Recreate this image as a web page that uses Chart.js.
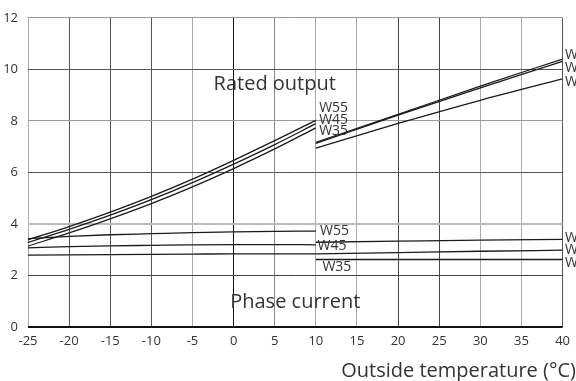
<!DOCTYPE html>
<html lang="en">
<head>
  <meta charset="UTF-8">
  <title>Rated output and phase current</title>
  <script src="https://cdn.jsdelivr.net/npm/chart.js"></script>
  <style>
    body { margin: 0; background: #ffffff; }
    #wrap { width: 576px; height: 381px; }
  </style>
</head>
<body>
  <div id="wrap"><canvas id="chart" width="576" height="381"></canvas></div>

  <script>
  // temperatures (°C)
  const tempsLow = [-25, -20, -15, -10, -5, 0, 5, 10];
  const tempsHigh = [10, 20, 30, 40];

  // rated output (kW)
  const outW55Low = [3.38, 3.90, 4.46, 5.07, 5.74, 6.47, 7.23, 8.02];
  const outW45Low = [3.28, 3.79, 4.34, 4.94, 5.60, 6.32, 7.08, 7.89];
  const outW35Low = [3.14, 3.65, 4.20, 4.79, 5.44, 6.15, 6.91, 7.73];
  const outW55High = [7.17, 8.25, 9.35, 10.40];
  const outW45High = [7.13, 8.22, 9.28, 10.31];
  const outW35High = [6.94, 7.90, 8.80, 9.63];

  // phase current (A)
  const curW55Low = [3.43, 3.52, 3.58, 3.62, 3.66, 3.69, 3.71, 3.72];
  const curW45Low = [3.07, 3.12, 3.15, 3.17, 3.19, 3.20, 3.20, 3.19];
  const curW35Low = [2.79, 2.80, 2.81, 2.82, 2.83, 2.84, 2.84, 2.84];
  const curW55High = [3.29, 3.33, 3.37, 3.40];
  const curW45High = [2.84, 2.89, 2.94, 2.98];
  const curW35High = [2.62, 2.62, 2.62, 2.62];

  const xTicks = [-25, -20, -15, -10, -5, 0, 5, 10, 15, 20, 25, 30, 35, 40];
  const yTicks = [0, 2, 4, 6, 8, 10, 12];

  function pts(xs, ys) { return xs.map((x, i) => ({ x: x, y: ys[i] })); }
  function line(xs, ys) {
    return { data: pts(xs, ys), borderColor: '#1a1a1a', borderWidth: 1.3, pointRadius: 0, fill: false,
             cubicInterpolationMode: 'monotone' };
  }

  const datasets = [
    line(tempsLow, outW55Low), line(tempsLow, outW45Low), line(tempsLow, outW35Low),
    line(tempsHigh, outW55High), line(tempsHigh, outW45High), line(tempsHigh, outW35High),
    line(tempsLow, curW55Low), line(tempsLow, curW45Low), line(tempsLow, curW35Low),
    line(tempsHigh, curW55High), line(tempsHigh, curW45High), line(tempsHigh, curW35High)
  ];

  // grid shades copied from the scanned figure
  const xGridShade = { '-25': '#aaa', '-20': '#555', '-15': '#555', '-10': '#555', '-5': '#aaa', '0': '#111',
    '5': '#888', '10': '#aaa', '15': '#aaa', '20': '#444', '25': '#444', '30': '#aaa', '35': '#aaa', '40': '#555' };
  const yGridShade = { '0': '#111', '2': '#444', '4': '#bbb', '6': '#555', '8': '#999', '10': '#555', '12': '#999' };

  // text labels placed in data space
  const notes = [
    { text: 'Rated output', x: 5.0, y: 9.4, size: 20, align: 'center' },
    { text: 'Phase current', x: 7.5, y: 0.95, size: 20, align: 'center' },
    { text: 'W55', x: 10.4, y: 8.5, size: 14, align: 'left' },
    { text: 'W45', x: 10.4, y: 8.05, size: 14, align: 'left' },
    { text: 'W35', x: 10.4, y: 7.6, size: 14, align: 'left' },
    { text: 'W55', x: 10.5, y: 3.72, size: 14, align: 'left' },
    { text: 'W45', x: 10.2, y: 3.14, size: 14, align: 'left' },
    { text: 'W35', x: 10.8, y: 2.33, size: 14, align: 'left' },
    { text: 'W55', x: 40.3, y: 10.55, size: 14, align: 'left' },
    { text: 'W45', x: 40.3, y: 10.05, size: 14, align: 'left' },
    { text: 'W35', x: 40.3, y: 9.5, size: 14, align: 'left' },
    { text: 'W55', x: 40.3, y: 3.45, size: 14, align: 'left' },
    { text: 'W45', x: 40.3, y: 3.0, size: 14, align: 'left' },
    { text: 'W35', x: 40.3, y: 2.48, size: 14, align: 'left' }
  ];

  const notePlugin = {
    id: 'notes',
    afterDatasetsDraw(chart) {
      const { ctx, scales } = chart;
      ctx.save();
      ctx.fillStyle = '#333';
      ctx.textBaseline = 'middle';
      notes.forEach(n => {
        ctx.font = n.size + 'px "Open Sans", sans-serif';
        ctx.textAlign = n.align;
        ctx.fillText(n.text, scales.x.getPixelForValue(n.x), scales.y.getPixelForValue(n.y));
      });
      // axis title sits flush with the right edge of the figure
      ctx.font = '20px "Open Sans", sans-serif';
      ctx.textAlign = 'right';
      ctx.fillText('Outside temperature (°C)', chart.width, scales.x.bottom - 10);
      ctx.restore();
    }
  };

  new Chart(document.getElementById('chart'), {
    type: 'line',
    data: { datasets: datasets },
    plugins: [notePlugin],
    options: {
      responsive: false,
      animation: false,
      plugins: { legend: { display: false }, tooltip: { enabled: false } },
      layout: { padding: { top: 17, right: 12, left: 0, bottom: 0 } },
      scales: {
        x: {
          type: 'linear', min: -25, max: 40,
          afterBuildTicks: ax => { ax.ticks = xTicks.map(v => ({ value: v })); },
          grid: { color: c => xGridShade[String(c.tick.value)] || '#888', lineWidth: 1, drawTicks: false },
          border: { display: false },
          ticks: { color: '#333', font: { family: 'Open Sans', size: 13 }, padding: 6, maxRotation: 0 },
          afterFit: ax => { ax.height = 54; }
        },
        y: {
          type: 'linear', min: 0, max: 12,
          afterBuildTicks: ax => { ax.ticks = yTicks.map(v => ({ value: v })); },
          grid: { color: c => yGridShade[String(c.tick.value)] || '#888',
                  lineWidth: c => (c.tick.value === 4 || c.tick.value === 0) ? 2 : 1, drawTicks: false },
          border: { display: false },
          ticks: { color: '#333', font: { family: 'Open Sans', size: 13 }, padding: 10 },
          afterFit: ax => { ax.width = 28; }
        }
      }
    }
  });
  </script>
</body>
</html>
